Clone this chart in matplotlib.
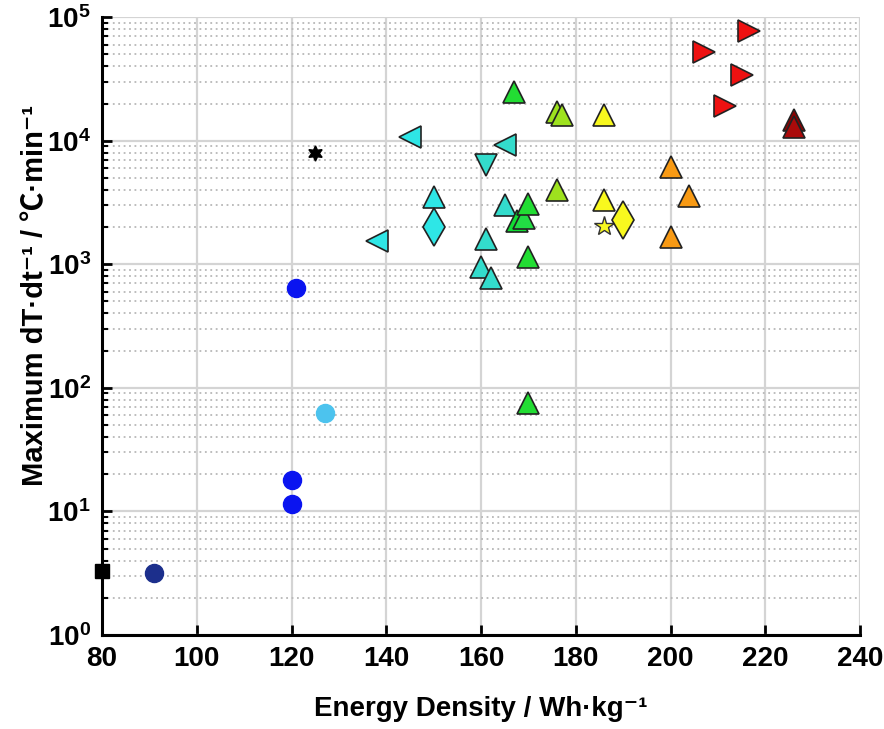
import numpy as np
import matplotlib
matplotlib.use("Agg")
import matplotlib.pyplot as plt
from matplotlib.ticker import FixedLocator, FuncFormatter, LogLocator, NullFormatter

plt.rcParams['font.family'] = ['Liberation Sans', 'Noto Sans CJK SC', 'DejaVu Sans']
plt.rcParams['font.weight'] = 'bold'
plt.rcParams['mathtext.fontset'] = 'custom'
plt.rcParams['mathtext.rm'] = 'Liberation Sans:bold'
plt.rcParams['mathtext.bf'] = 'Liberation Sans:bold'

# energy density (Wh/kg) vs. maximum self-heating rate (degC/min)
energy_density = [80, 91, 121, 120, 120, 127, 125,
                  145, 138, 150, 150,
                  165, 161, 165, 161, 160, 162,
                  167, 170, 170, 167.5, 169, 170,
                  176, 177, 176,
                  186, 186, 186, 190,
                  200, 204, 200,
                  216.5, 207, 215, 211.5,
                  226, 226]
max_rate = [3.3, 3.2, 640, 18, 11.5, 62, 7900,
            10800, 1550, 3500, 2000,
            9200, 6350, 3000, 1600, 950, 770,
            25000, 1150, 75, 2250, 2350, 3050,
            17000, 16000, 4000,
            16000, 3300, 2050, 2300,
            6100, 3600, 1650,
            77500, 52000, 34000, 19000,
            14800, 13000]
marker_shape = ['s', 'o', 'o', 'o', 'o', 'o', (6, 1, 0),
                '<', '<', '^', 'd',
                '<', 'v', '^', '^', '^', '^',
                '^', '^', '^', '^', '^', '^',
                '^', '^', '^',
                '^', '^', '*', 'd',
                '^', '^', '^',
                '>', '>', '>', '>',
                '^', '^']
marker_color = ['#000000', '#1c2f8c', '#0a14f0', '#0a14f0', '#0a14f0', '#4cc3ee', '#000000',
                '#2ee6e6', '#2ee6e6', '#2ee6e6', '#2ee6e6',
                '#33dccc', '#33dccc', '#33dccc', '#33dccc', '#33dccc', '#33dccc',
                '#22dd33', '#22dd33', '#22dd33', '#11dd33', '#22dd44', '#22dd33',
                '#9ee21e', '#9ee21e', '#9ee21e',
                '#f8f81e', '#f8f81e', '#f8f81e', '#f8f81e',
                '#f89a14', '#f89a14', '#f89a14',
                '#ee1111', '#ee1111', '#ee1111', '#ee1111',
                '#8c0000', '#aa0a0a']

x_ticks = [80, 100, 120, 140, 160, 180, 200, 220, 240]

fig = plt.figure(figsize=(8.84, 7.29), dpi=100)
ax = fig.add_axes([0.1154, 0.129, 0.8575, 0.8475])

for x, y, m, c in zip(energy_density, max_rate, marker_shape, marker_color):
    if m == 'o':
        ax.plot(x, y, marker=m, ms=13, color=c, mec=c, ls='none', zorder=3, clip_on=False)
    elif m == 's':
        ax.plot(x, y, marker=m, ms=10, color=c, mec=c, ls='none', zorder=3, clip_on=False)
    elif m == (6, 1, 0):
        ax.plot(x, y, marker=m, ms=11, color=c, mec=c, ls='none', zorder=3)
    elif m == '*':
        ax.plot(x, y, marker=m, ms=15, color=c, mec='#333333', mew=1.0, ls='none', zorder=3)
    elif m == 'd':
        ax.plot(x, y, marker=m, ms=19, color=c, mec='#222222', mew=1.2, ls='none', zorder=3)
    else:
        ax.plot(x, y, marker=m, ms=16.5, color=c, mec='#222222', mew=1.2, ls='none', zorder=3)

ax.set_yscale('log')
ax.set_xlim(80, 240)
ax.set_ylim(1, 1e5)
ax.xaxis.set_major_locator(FixedLocator(x_ticks))
ax.yaxis.set_major_locator(LogLocator(base=10, numticks=10))
ax.yaxis.set_minor_locator(LogLocator(base=10, subs=np.arange(2, 10), numticks=20))
ax.yaxis.set_minor_formatter(NullFormatter())
ax.yaxis.set_major_formatter(FuncFormatter(lambda v, p: r'$\mathbf{10^{%d}}$' % round(np.log10(v))))

ax.grid(True, which='major', color='#d4d4d4', lw=1.6, ls='-', zorder=0)
ax.grid(True, which='minor', axis='y', color='#b8b8b8', lw=1.3, ls=(0, (1, 2)), zorder=0)
ax.set_axisbelow(True)

for side in ['top', 'right']:
    ax.spines[side].set_visible(False)
for side in ['left', 'bottom']:
    ax.spines[side].set_linewidth(2.2)

ax.tick_params(which='major', direction='in', length=7, width=2, labelsize=20, pad=8)
ax.tick_params(which='minor', direction='in', length=4, width=1.5)
ax.tick_params(axis='x', which='minor', bottom=False)

ax.set_xlabel('Energy Density / Wh·kg⁻¹', fontsize=20, fontweight='bold', labelpad=17)
ax.set_ylabel('Maximum dT·dt⁻¹ / ℃·min⁻¹', fontsize=21, fontweight='bold', va='center')
ax.yaxis.set_label_coords(-0.088, 0.55)

fig.savefig('out.png', dpi=100)
